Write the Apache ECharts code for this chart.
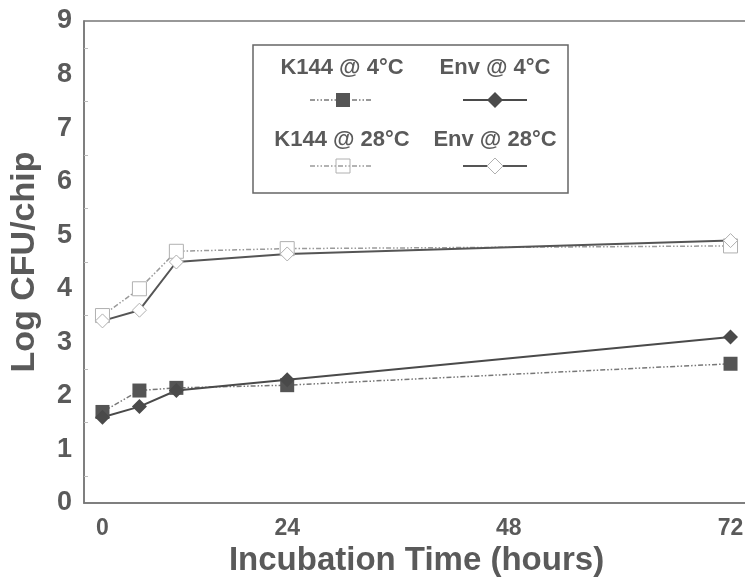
<!DOCTYPE html>
<html>
<head>
<meta charset="UTF-8">
<title>Log CFU/chip</title>
<script src="https://cdn.jsdelivr.net/npm/echarts@6/dist/echarts.min.js"></script>
<style>
  html, body { margin: 0; padding: 0; background: #fff; }
  #main { width: 745px; height: 579px; }
</style>
</head>
<body>
<div id="main"></div>
<script type="text/javascript">
// x axis: one slot per tick of the original axis, labelled 0 / 24 / 48 / 72
var xTickLabels = ['0', '', '', '', '', '24', '', '', '', '', '', '48', '', '', '', '', '', '72'];
// slot of each sampling time along that axis
var sampleSlots = [0, 1, 2, 5, 17];

var k144At4 = [1.7, 2.1, 2.15, 2.2, 2.6];
var envAt4 = [1.6, 1.8, 2.1, 2.3, 3.1];
var k144At28 = [3.5, 4.0, 4.7, 4.75, 4.8];
var envAt28 = [3.4, 3.6, 4.5, 4.65, 4.9];

var yTicks = [0, 1, 2, 3, 4, 5, 6, 7, 8, 9];

function pairs(vals) {
    return vals.map(function (v, i) { return [sampleSlots[i], v]; });
}

var font = 'Liberation Sans, Arial, sans-serif';
var textGray = '#5a5a5a';
var dashDot = [5, 2, 1.5, 2, 1.5, 2];

var myChart = echarts.init(document.getElementById('main'));
var option = {
    backgroundColor: '#fff',
    animation: false,
    grid: {
        left: 84, top: 21, width: 665, height: 482,
        outerBoundsMode: 'none',
        containLabel: false,
        show: true, borderColor: '#777', borderWidth: 1.5,
        backgroundColor: 'transparent'
    },
    xAxis: {
        type: 'category',
        data: xTickLabels,
        boundaryGap: true,
        name: 'Incubation Time (hours)',
        nameLocation: 'middle',
        nameGap: 41,
        nameTextStyle: { fontFamily: font, fontWeight: 'bold', fontSize: 33, color: textGray },
        axisLine: { lineStyle: { color: '#777', width: 1.5 } },
        axisTick: { alignWithLabel: true, inside: true, length: 9, interval: 0, lineStyle: { color: '#aaa' } },
        axisLabel: { interval: 0, margin: 14, fontFamily: font, fontWeight: 'bold', fontSize: 23, color: textGray },
        splitLine: { show: false }
    },
    yAxis: {
        type: 'value',
        min: yTicks[0],
        max: yTicks[yTicks.length - 1],
        interval: 1,
        name: 'Log CFU/chip',
        nameLocation: 'middle',
        nameGap: 42,
        nameTextStyle: { fontFamily: font, fontWeight: 'bold', fontSize: 34, color: textGray },
        axisLine: { show: true, lineStyle: { color: '#777', width: 1.5 } },
        axisTick: { inside: true, length: 7, lineStyle: { color: '#aaa' } },
        minorTick: { show: true, splitNumber: 2, length: 4, lineStyle: { color: '#bbb' } },
        axisLabel: { margin: 12, fontFamily: font, fontWeight: 'bold', fontSize: 27, color: textGray },
        splitLine: { show: false }
    },
    series: [
        {
            name: 'K144 @ 28°C', type: 'line', data: pairs(k144At28),
            symbol: 'rect', symbolSize: 14,
            lineStyle: { color: '#9a9a9a', width: 1.5, type: dashDot },
            itemStyle: { color: '#fff', borderColor: '#b0b0b0', borderWidth: 1 }
        },
        {
            name: 'Env @ 28°C', type: 'line', data: pairs(envAt28),
            symbol: 'diamond', symbolSize: 14,
            lineStyle: { color: '#555', width: 2 },
            itemStyle: { color: '#fff', borderColor: '#b0b0b0', borderWidth: 1 }
        },
        {
            name: 'K144 @ 4°C', type: 'line', data: pairs(k144At4),
            symbol: 'rect', symbolSize: 14,
            lineStyle: { color: '#777', width: 1.5, type: dashDot },
            itemStyle: { color: '#555' }
        },
        {
            name: 'Env @ 4°C', type: 'line', data: pairs(envAt4),
            symbol: 'diamond', symbolSize: 15,
            lineStyle: { color: '#4a4a4a', width: 2 },
            itemStyle: { color: '#4a4a4a' }
        }
    ],
    graphic: [
        { type: 'rect', shape: { x: 253, y: 45, width: 315, height: 148 },
          style: { fill: '#fff', stroke: '#666', lineWidth: 1.5 }, z: 10 },
        { type: 'text', x: 342, y: 68, z: 11,
          style: { text: 'K144 @ 4°C', font: 'bold 22px ' + font, fill: textGray, textAlign: 'center', textVerticalAlign: 'middle' } },
        { type: 'text', x: 495, y: 68, z: 11,
          style: { text: 'Env @ 4°C', font: 'bold 22px ' + font, fill: textGray, textAlign: 'center', textVerticalAlign: 'middle' } },
        { type: 'text', x: 342, y: 140, z: 11,
          style: { text: 'K144 @ 28°C', font: 'bold 22px ' + font, fill: textGray, textAlign: 'center', textVerticalAlign: 'middle' } },
        { type: 'text', x: 495, y: 140, z: 11,
          style: { text: 'Env @ 28°C', font: 'bold 22px ' + font, fill: textGray, textAlign: 'center', textVerticalAlign: 'middle' } },
        { type: 'line', z: 11, shape: { x1: 310, y1: 100, x2: 372, y2: 100 },
          style: { stroke: '#777', lineWidth: 1.5, lineDash: dashDot } },
        { type: 'rect', z: 12, shape: { x: 336, y: 93, width: 14, height: 14 }, style: { fill: '#555' } },
        { type: 'line', z: 11, shape: { x1: 463, y1: 100, x2: 527, y2: 100 },
          style: { stroke: '#4a4a4a', lineWidth: 2 } },
        { type: 'polygon', z: 12, shape: { points: [[495, 92], [503, 100], [495, 108], [487, 100]] }, style: { fill: '#4a4a4a' } },
        { type: 'line', z: 11, shape: { x1: 310, y1: 166, x2: 372, y2: 166 },
          style: { stroke: '#9a9a9a', lineWidth: 1.5, lineDash: dashDot } },
        { type: 'rect', z: 12, shape: { x: 336, y: 159, width: 14, height: 14 }, style: { fill: 'none', stroke: '#b0b0b0', lineWidth: 1 } },
        { type: 'line', z: 11, shape: { x1: 463, y1: 166, x2: 527, y2: 166 },
          style: { stroke: '#555', lineWidth: 2 } },
        { type: 'polygon', z: 12, shape: { points: [[495, 158], [503, 166], [495, 174], [487, 166]] }, style: { fill: '#fff', stroke: '#b0b0b0', lineWidth: 1 } }
    ]
};
myChart.setOption(option);
</script>
</body>
</html>
